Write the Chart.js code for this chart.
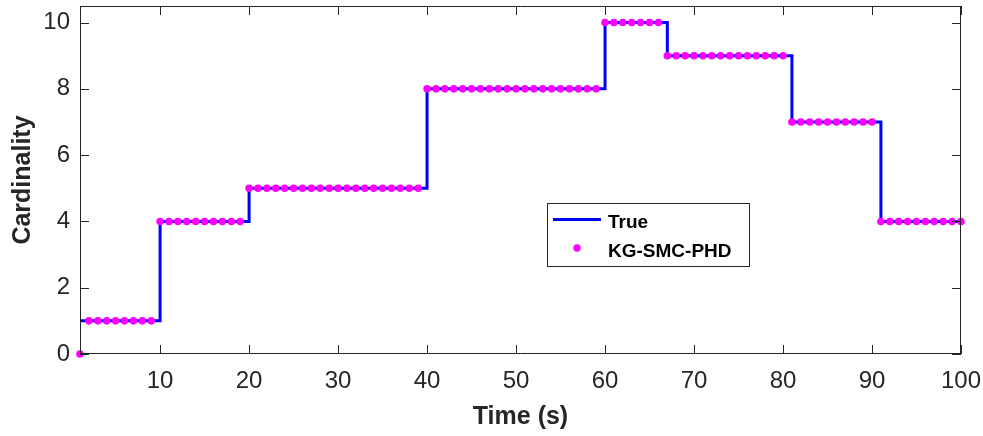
<!DOCTYPE html>
<html>
<head>
<meta charset="utf-8">
<title>Cardinality</title>
<script src="https://cdn.jsdelivr.net/npm/chart.js@4"></script>
<style>
  html, body { margin: 0; padding: 0; background: #fff; }
  #wrap { width: 983px; height: 436px; position: relative; }
</style>
</head>
<body>
<div id="wrap"><canvas id="chart-card"></canvas></div>
<script>
// ── Data ──────────────────────────────────────────────────────
const timeSteps = [
  1, 2, 3, 4, 5, 6, 7, 8, 9, 10,
  11, 12, 13, 14, 15, 16, 17, 18, 19, 20,
  21, 22, 23, 24, 25, 26, 27, 28, 29, 30,
  31, 32, 33, 34, 35, 36, 37, 38, 39, 40,
  41, 42, 43, 44, 45, 46, 47, 48, 49, 50,
  51, 52, 53, 54, 55, 56, 57, 58, 59, 60,
  61, 62, 63, 64, 65, 66, 67, 68, 69, 70,
  71, 72, 73, 74, 75, 76, 77, 78, 79, 80,
  81, 82, 83, 84, 85, 86, 87, 88, 89, 90,
  91, 92, 93, 94, 95, 96, 97, 98, 99, 100,
];

// true number of targets per step
const trueCardinality = [
  1, 1, 1, 1, 1, 1, 1, 1, 1, 4,
  4, 4, 4, 4, 4, 4, 4, 4, 4, 5,
  5, 5, 5, 5, 5, 5, 5, 5, 5, 5,
  5, 5, 5, 5, 5, 5, 5, 5, 5, 8,
  8, 8, 8, 8, 8, 8, 8, 8, 8, 8,
  8, 8, 8, 8, 8, 8, 8, 8, 8, 10,
  10, 10, 10, 10, 10, 10, 9, 9, 9, 9,
  9, 9, 9, 9, 9, 9, 9, 9, 9, 9,
  7, 7, 7, 7, 7, 7, 7, 7, 7, 7,
  4, 4, 4, 4, 4, 4, 4, 4, 4, 4,
];

// KG-SMC-PHD estimate per step
const estCardinality = [
  0, 1, 1, 1, 1, 1, 1, 1, 1, 4,
  4, 4, 4, 4, 4, 4, 4, 4, 4, 5,
  5, 5, 5, 5, 5, 5, 5, 5, 5, 5,
  5, 5, 5, 5, 5, 5, 5, 5, 5, 8,
  8, 8, 8, 8, 8, 8, 8, 8, 8, 8,
  8, 8, 8, 8, 8, 8, 8, 8, 8, 10,
  10, 10, 10, 10, 10, 10, 9, 9, 9, 9,
  9, 9, 9, 9, 9, 9, 9, 9, 9, 9,
  7, 7, 7, 7, 7, 7, 7, 7, 7, 7,
  4, 4, 4, 4, 4, 4, 4, 4, 4, 4,
];

const xTickValues = [10, 20, 30, 40, 50, 60, 70, 80, 90, 100];
const yTickValues = [0, 2, 4, 6, 8, 10];
const seriesLabels = ['True', 'KG-SMC-PHD'];

const FONT = "'Liberation Sans', Arial, Helvetica, sans-serif";
const AXIS = '#262626';

const toPts = (ys) => ys.map((y, i) => ({ x: timeSteps[i], y }));

// ── Plugins ───────────────────────────────────────────────────

// box round the plot with inward ticks on all four sides
const axesBox = {
  id: 'axesBox',
  afterDatasetsDraw(chart) {
    const { ctx: c, chartArea: { top, bottom, left, right }, scales: { x, y } } = chart;
    const len = 9;
    c.save();
    c.strokeStyle = AXIS;
    c.lineWidth = 1;
    c.beginPath();
    c.moveTo(left, top + 0.5);
    c.lineTo(right, top + 0.5);
    c.moveTo(right - 0.5, top);
    c.lineTo(right - 0.5, bottom);
    c.moveTo(left + 0.5, top);
    c.lineTo(left + 0.5, bottom);
    c.moveTo(left, bottom - 0.5);
    c.lineTo(right, bottom - 0.5);
    xTickValues.forEach((v) => {
      const px = Math.round(x.getPixelForValue(v)) + 0.5;
      c.moveTo(px, bottom);
      c.lineTo(px, bottom - len);
      c.moveTo(px, top);
      c.lineTo(px, top + len);
    });
    yTickValues.forEach((v) => {
      const py = Math.round(y.getPixelForValue(v)) + 0.5;
      c.moveTo(left, py);
      c.lineTo(left + len, py);
      c.moveTo(right, py);
      c.lineTo(right - len, py);
    });
    c.stroke();
    c.restore();
  },
};

// legend drawn inside the plot area
const boxLegend = {
  id: 'boxLegend',
  afterDraw(chart) {
    const c = chart.ctx;
    const bx = 547, by = 203, bw = 202, bh = 63;
    c.save();
    c.fillStyle = '#fff';
    c.fillRect(bx, by, bw, bh);
    c.strokeStyle = AXIS;
    c.lineWidth = 1;
    c.strokeRect(bx + 0.5, by + 0.5, bw, bh);

    // True: line sample
    c.strokeStyle = '#0000ff';
    c.lineWidth = 3;
    c.beginPath();
    c.moveTo(553, 219.5);
    c.lineTo(601, 219.5);
    c.stroke();

    // estimate: dot sample
    c.fillStyle = '#ff00ff';
    c.beginPath();
    c.arc(577, 248, 3.7, 0, Math.PI * 2);
    c.fill();

    c.fillStyle = '#000';
    c.font = `bold 19px ${FONT}`;
    c.textAlign = 'left';
    c.textBaseline = 'alphabetic';
    c.fillText(seriesLabels[0], 608, 228);
    c.fillText(seriesLabels[1], 608, 257);
    c.restore();
  },
};

// fixed axis sizes, no extra room for overflowing tick labels
const fitX = (s) => {
  s.height = 82;
  s.paddingLeft = 0;
  s.paddingRight = 0;
};
const fitY = (s) => {
  s.width = 80;
  s.paddingTop = 0;
  s.paddingBottom = 0;
};

// ── Chart ─────────────────────────────────────────────────────
new Chart(document.getElementById('chart-card').getContext('2d'), {
  type: 'line',
  data: {
    datasets: [
      {
        label: seriesLabels[1],
        data: toPts(estCardinality),
        showLine: false,
        pointRadius: 3.8,
        pointHoverRadius: 3.8,
        pointBackgroundColor: '#ff00ff',
        pointBorderWidth: 0,
        clip: false,
        order: 0,
      },
      {
        label: seriesLabels[0],
        data: toPts(trueCardinality),
        borderColor: '#0000ff',
        borderWidth: 3,
        pointRadius: 0,
        stepped: 'before',
        fill: false,
        order: 1,
      },
    ],
  },
  options: {
    responsive: true,
    maintainAspectRatio: false,
    animation: false,
    layout: { padding: { top: 6, right: 22, left: 0, bottom: 0 } },
    plugins: {
      legend: { display: false },
      tooltip: { enabled: false },
    },
    scales: {
      x: {
        type: 'linear',
        min: 1,
        max: 100,
        afterBuildTicks: (s) => { s.ticks = xTickValues.map((v) => ({ value: v })); },
        afterFit: fitX,
        grid: { display: false, drawTicks: false },
        border: { display: false },
        ticks: {
          color: AXIS,
          font: { family: FONT, size: 24 },
          padding: 13,
          maxRotation: 0,
          autoSkip: false,
        },
        title: {
          display: true,
          text: 'Time (s)',
          color: AXIS,
          font: { family: FONT, size: 25, weight: 'bold' },
          padding: { top: 0, bottom: 4 },
        },
      },
      y: {
        type: 'linear',
        min: 0,
        max: 10.5,
        afterBuildTicks: (s) => { s.ticks = yTickValues.map((v) => ({ value: v })); },
        afterFit: fitY,
        grid: { display: false, drawTicks: false },
        border: { display: false },
        ticks: {
          color: AXIS,
          font: { family: FONT, size: 24 },
          padding: 10,
          autoSkip: false,
        },
        title: {
          display: true,
          text: 'Cardinality',
          color: AXIS,
          font: { family: FONT, size: 25, weight: 'bold' },
          padding: { top: 8, bottom: 0 },
        },
      },
    },
  },
  plugins: [axesBox, boxLegend],
});
</script>
</body>
</html>
